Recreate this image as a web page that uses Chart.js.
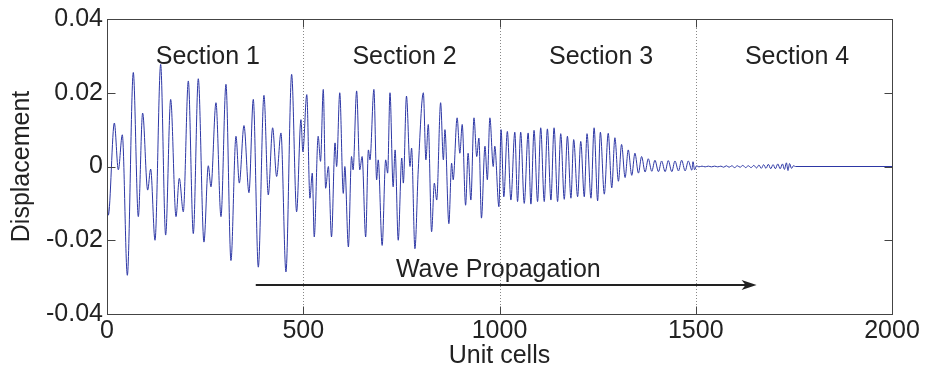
<!DOCTYPE html>
<html><head><meta charset="utf-8">
<script src="https://cdn.jsdelivr.net/npm/chart.js@4.4.0/dist/chart.umd.min.js"></script>
<style>html,body{margin:0;padding:0;background:#fff;overflow:hidden}#wrap{width:925px;height:378px;position:relative}</style>
</head><body><div id="wrap"><canvas id="c" width="925" height="378"></canvas></div>
<script>
// ---- data (extremes of the wave) ----
const section1Cells = [0,3.4,18.7,28.9,39,51.8,67,79.8,90.8,103.6,111.2,122.3,136.7,149.4,162.2,175.8,184.2,194.4,207.2,219.9,232.6,247,258.1,264.9,277.6,290.4,303.1,315.8,328.6,337.1,349,361.7,372.7,385.5,399.9,410.9,422,432.2,443.2,455.9,470.4,483.1,494.1];
const section1Disp  = [-0.007,-0.0132,0.0118,-0.0009,0.0086,-0.0295,0.0255,-0.0136,0.0145,-0.0064,-0.0007,-0.02,0.0277,-0.0186,0.0182,-0.0136,-0.0032,-0.0123,0.0232,-0.0182,0.0238,-0.0205,0.0002,-0.0055,0.0173,-0.0136,0.0223,-0.0255,0.0082,-0.0045,0.0111,-0.0071,0.0182,-0.0273,0.0193,-0.0077,0.0105,-0.0027,0.0091,-0.0286,0.025,-0.0123,0.0127];

const section2Cells = [499,509,517,523,528,538,544,551,557,564,572,581,585,593,602,606,615,623,627,636,644,650,659,666,670,680,687,691,701,710,715,721,729,734,742,751,755,763,772,776,784.5,793,806,812.5,818.5,827,834,840,850,857,861,871,878,882,892,899,905,913.6,920,927,935,942,947.5,954,963,969,975.5,984,988,998.5];
const section2Disp  = [0.004,0.0195,-0.0086,-0.0018,-0.0191,0.0082,0.0014,0.0209,-0.0059,0,-0.0191,0.0064,0,0.02,-0.0073,0,-0.0218,0.0027,-0.0009,0.0205,-0.0009,0.0027,-0.0191,0.0045,0.0018,0.0209,-0.0036,0.0018,-0.0214,0.0018,-0.0018,0.02,-0.0055,0.0045,-0.02,0.0023,-0.0045,0.0191,0,0.005,-0.0223,-0.0009,0.02,0.0018,0.0114,-0.0177,-0.0045,-0.0091,0.0173,0.0018,0.01,-0.0155,0.0009,-0.0036,0.0132,0.0036,0.0114,-0.0105,0.0036,-0.0091,0.0132,0.0027,0.0077,-0.014,0.0055,-0.0036,0.0132,0,0.0055,-0.0109];

const section3Cells = [1004,1011,1020,1029,1039,1046,1054,1063,1073,1080,1088,1097,1105,1114,1122,1131,1139,1148,1156,1165,1173,1182,1189,1199,1207,1216,1223,1233,1241,1250,1257,1267,1277,1286,1294,1303,1311,1320,1328,1337,1345,1354,1362,1371,1379,1388,1396,1405,1413,1422,1430,1439,1447,1456,1464,1473,1481,1490,1493,1497];
const section3Disp  = [0.01,-0.0082,0.0095,-0.0091,0.0093,-0.0095,0.0093,-0.01,0.0091,-0.0102,0.0098,-0.0095,0.0105,-0.0095,0.0102,-0.0091,0.0105,-0.0095,0.0089,-0.0089,0.0082,-0.0086,0.0073,-0.0082,0.0068,-0.0082,0.0089,-0.0086,0.0105,-0.0093,0.0093,-0.0075,0.009,-0.0058,0.0078,-0.004,0.006,-0.003,0.0045,-0.0024,0.0036,-0.0018,0.0027,-0.0015,0.0021,-0.0013,0.0017,-0.0014,0.0015,-0.0014,0.0016,-0.0014,0.0015,-0.0012,0.0017,-0.0012,0.0015,-0.001,0.0013,-0.0009];

const section4Cells = [1502,1508,1516,1524,1532,1540,1548,1556,1564,1571,1578,1585,1592,1599,1606,1613,1620,1627,1634,1641,1648,1655,1661,1667,1673,1679,1685,1691,1697,1703,1709,1715,1721,1726,1731,1735,1739,1744,1749,1754,2000];
const section4Disp  = [0.0002,-0.0001,0.0001,-0.0001,0.0001,-0.0001,0.0001,-0.0001,0.0001,-0.0002,0.0002,-0.0002,0.0002,-0.0003,0.0002,-0.0002,0.0003,-0.0003,0.0002,-0.0003,0.0003,-0.0004,0.0004,-0.0005,0.0005,-0.0005,0.0006,-0.0006,0.0005,-0.0006,0.0007,-0.0006,0.0007,-0.0008,0.001,-0.0011,0.0008,-0.0005,0.0002,0,0];

const xTicks = [0,500,1000,1500,2000];
const yTicks = [-0.04,-0.02,0,0.02,0.04];
const yTickLabels = ['-0.04','-0.02','0','0.02','0.04'];
const sectionBounds = [500,1000,1500];
const sectionLabels = ['Section 1','Section 2','Section 3','Section 4'];
const sectionLabelCells = [257,758,1259,1758];
const annotationText = 'Wave Propagation';

// ---- build points ----
const allCells = [].concat(section1Cells, section2Cells, section3Cells, section4Cells);
const allDisp  = [].concat(section1Disp, section2Disp, section3Disp, section4Disp);
const points = allCells.map((x, i) => ({x: x, y: allDisp[i]}));

const FONT = '"Liberation Sans", Arial, Helvetica, sans-serif';
const TXT = '#222222';

const overlay = {
  id: 'overlay',
  beforeDatasetsDraw(chart) {
    const {ctx, chartArea: a, scales: {x}} = chart;
    ctx.save();
    ctx.strokeStyle = '#888888';
    ctx.lineWidth = 1;
    ctx.setLineDash([1, 2]);
    sectionBounds.forEach(v => {
      const px = Math.round(x.getPixelForValue(v)) + 0.5;
      ctx.beginPath(); ctx.moveTo(px, a.top); ctx.lineTo(px, a.bottom); ctx.stroke();
    });
    ctx.restore();
  },
  afterDatasetsDraw(chart) {
    const {ctx, chartArea: a, scales: {x, y}} = chart;
    ctx.save();
    const L = Math.round(a.left) + 0.5, R = Math.round(a.right) + 0.5;
    const T = Math.round(a.top) + 0.5, B = Math.round(a.bottom) + 0.5;
    ctx.strokeStyle = '#444444';
    ctx.lineWidth = 1;
    ctx.strokeRect(L, T, R - L, B - T);
    const tl = 8;
    ctx.beginPath();
    xTicks.forEach(v => {
      const px = Math.round(x.getPixelForValue(v)) + 0.5;
      ctx.moveTo(px, B); ctx.lineTo(px, B - tl);
      ctx.moveTo(px, T); ctx.lineTo(px, T + tl);
    });
    yTicks.forEach(v => {
      const py = Math.round(y.getPixelForValue(v)) + 0.5;
      ctx.moveTo(L, py); ctx.lineTo(L + tl, py);
      ctx.moveTo(R, py); ctx.lineTo(R - tl, py);
    });
    ctx.stroke();

    ctx.fillStyle = TXT;
    ctx.font = '25px ' + FONT;
    ctx.textAlign = 'center';
    ctx.textBaseline = 'alphabetic';
    sectionLabels.forEach((t, i) => {
      ctx.fillText(t, x.getPixelForValue(sectionLabelCells[i]), y.getPixelForValue(0.0277));
    });
    ctx.fillText(annotationText, x.getPixelForValue(997), y.getPixelForValue(-0.030));

    // arrow
    const ay = Math.round(y.getPixelForValue(-0.032));
    const x0 = x.getPixelForValue(379), x1 = x.getPixelForValue(1655);
    ctx.strokeStyle = '#222222';
    ctx.lineWidth = 2;
    ctx.beginPath(); ctx.moveTo(x0, ay); ctx.lineTo(x1 - 8, ay); ctx.stroke();
    ctx.fillStyle = '#222222';
    ctx.beginPath();
    ctx.moveTo(x1, ay);
    ctx.lineTo(x1 - 15, ay - 5);
    ctx.lineTo(x1 - 11, ay);
    ctx.lineTo(x1 - 15, ay + 5);
    ctx.closePath();
    ctx.fill();
    ctx.restore();
  }
};

new Chart(document.getElementById('c'), {
  type: 'line',
  data: {
    datasets: [{
      data: points,
      borderColor: 'rgb(45,55,165)',
      borderWidth: 1,
      pointRadius: 0,
      fill: false,
      cubicInterpolationMode: 'monotone'
    }]
  },
  options: {
    responsive: false,
    animation: false,
    devicePixelRatio: 1,
    parsing: true,
    layout: {padding: {left: 0, top: 19, right: 33, bottom: 0}},
    plugins: {legend: {display: false}, tooltip: {enabled: false}},
    scales: {
      x: {
        type: 'linear', min: 0, max: 2000,
        afterBuildTicks: s => { s.ticks = xTicks.map(v => ({value: v})); },
        afterFit: s => { s.height = 64; },
        grid: {display: false, drawTicks: false},
        border: {display: false},
        ticks: {font: {size: 25, family: FONT}, color: TXT, padding: 2, maxRotation: 0, autoSkip: false,
                callback: v => String(v)},
        title: {display: true, text: 'Unit cells', font: {size: 25, family: FONT}, color: TXT, padding: {top: 0, bottom: 7}}
      },
      y: {
        type: 'linear', min: -0.04, max: 0.04,
        afterBuildTicks: s => { s.ticks = yTicks.map(v => ({value: v})); },
        afterFit: s => { s.width = 107; },
        grid: {display: false, drawTicks: false},
        border: {display: false},
        ticks: {font: {size: 25, family: FONT}, color: TXT, padding: 4,
                callback: (v, i) => yTickLabels[i]},
        title: {display: true, text: 'Displacement', font: {size: 25, family: FONT}, color: TXT, padding: {top: 7, bottom: 0}}
      }
    }
  },
  plugins: [overlay]
});
</script>
</body></html>
